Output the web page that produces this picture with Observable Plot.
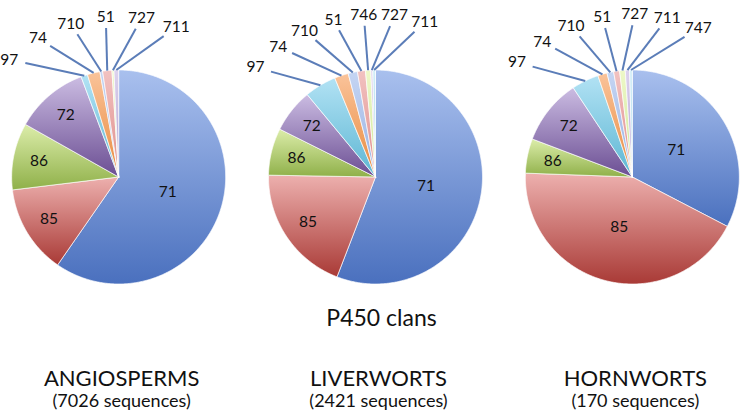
<!DOCTYPE html>
<html>
<head>
<meta charset="utf-8">
<script src="https://cdn.jsdelivr.net/npm/d3@7"></script>
<script src="https://cdn.jsdelivr.net/npm/@observablehq/plot@0.6"></script>
<style>
  html, body { margin: 0; padding: 0; background: #fff; }
  #chart { width: 741px; height: 420px; }
</style>
</head>
<body>
<div id="chart"></div>
<script>
// ---- data (percent of sequences per P450 clan) ----
const groups = ["ANGIOSPERMS", "LIVERWORTS", "HORNWORTS"];
const sequenceLabels = ["(7026 sequences)", "(2421 sequences)", "(170 sequences)"];
const axisTitle = "P450 clans";

const angiospermClans  = ["71", "85", "86", "72", "97", "74", "710", "51", "727", "711"];
const angiospermValues = [59.6, 13.4, 10.1, 11.1, 1.0, 1.9, 0.4, 1.4, 0.3, 0.7];

const liverwortClans  = ["71", "85", "86", "72", "97", "74", "710", "51", "746", "727", "711"];
const liverwortValues = [55.8, 19.4, 7.1, 6.6, 4.8, 2.1, 1.4, 1.2, 0.8, 0.3, 0.4];

const hornwortClans  = ["71", "85", "86", "72", "97", "74", "710", "51", "727", "711", "747"];
const hornwortValues = [32.6, 42.9, 5.2, 9.9, 4.1, 1.4, 1.0, 0.9, 0.85, 0.65, 0.4];

// ---- styling ----
const topColors    = ["#A9C0EE", "#EDB0AE", "#DCEDAA", "#CBBCE2", "#B2E2F4", "#FAC39A",
                      "#C5D5F3", "#F2C2C1", "#EEF8C8", "#DDD3EE", "#D3EEF8", "#FCD9BE"];
const bottomColors = ["#4A70BE", "#A93A36", "#8FB049", "#6B4E93", "#5DB6D3", "#E88A3E",
                      "#97B1E3", "#DE8C89", "#CDE596", "#AE9CCF", "#9AD2E6", "#F6B47E"];
const fans = [[-43, 21], [-47.6, 17.6], [-45.2, 23.9]]; // label fan (degrees)
const fanRadius = [1.50, 1.52, 1.52];

const W = 741, H = 420, R = 107, CY = 176.5, ML = 9, MR = 0, PAD = 0.15;
const step = (W - ML - MR) / (groups.length - PAD);
const bw = step * (1 - PAD);
const hw = bw / 2 / R;
const yTop = CY / R, yBot = -(H - CY) / R;
const rad = Math.PI / 180;
const labelFont = 15.5;

const pies = [
  {group: groups[0], clans: angiospermClans, values: angiospermValues, fan: fans[0], rt: fanRadius[0]},
  {group: groups[1], clans: liverwortClans, values: liverwortValues, fan: fans[1], rt: fanRadius[1]},
  {group: groups[2], clans: hornwortClans, values: hornwortValues, fan: fans[2], rt: fanRadius[2]}
];

const slices = [], leaders = [], outerLabels = [], innerLabels = [];
pies.forEach(p => {
  const rows = p.clans.map((c, i) => ({clan: c, value: p.values[i], index: i}));
  const arcs = d3.pie().sort(null).value(d => d.value)(rows);
  arcs.forEach(a => {
    const span = a.endAngle - a.startAngle;
    const n = Math.max(2, Math.ceil(span / (0.5 * rad)));
    const pts = [{group: p.group, x: 0, y: 0}];
    for (let k = 0; k <= n; k++) {
      const t = a.startAngle + span * k / n;
      pts.push({group: p.group, x: Math.sin(t), y: Math.cos(t)});
    }
    pts.push({group: p.group, x: 0, y: 0});
    slices.push({index: a.data.index, pts});
    const m = (a.startAngle + a.endAngle) / 2;
    if (a.data.value >= 5) {
      const r = a.data.value > 30 ? 0.48 : 0.76;
      innerLabels.push({group: p.group, clan: a.data.clan, x: r * Math.sin(m), y: r * Math.cos(m)});
    }
  });
  const outside = arcs.filter(a => a.data.value < 5);
  outside.forEach((a, j) => {
    const t = (p.fan[0] + (p.fan[1] - p.fan[0]) * j / (outside.length - 1)) * rad;
    const tx = p.rt * Math.sin(t), ty = p.rt * Math.cos(t);
    const m = (a.startAngle + a.endAngle) / 2;
    const sx = Math.sin(m), sy = Math.cos(m);
    // leader end: short of the label centre, on an ellipse around the label
    let vx = sx - tx, vy = sy - ty;
    const len = Math.hypot(vx, vy); vx /= len; vy /= len;
    const aPx = a.data.clan.length * 0.58 * labelFont / 2 + 8, bPx = 11;
    const k = 1 / Math.sqrt((vx / aPx) ** 2 + (vy / bPx) ** 2) / R;
    leaders.push({group: p.group, x1: sx, y1: sy, x2: tx + vx * k, y2: ty + vy * k});
    outerLabels.push({group: p.group, clan: a.data.clan, x: tx, y: ty});
  });
});

const groupRows = groups.map((g, i) => ({group: g, seq: sequenceLabels[i]}));

const marks = slices.map(s =>
  Plot.line(s.pts, {
    fx: "group", x: "x", y: "y", curve: "linear",
    fill: `url(#slice-grad-${s.index})`,
    stroke: "white", strokeWidth: 0.8, strokeOpacity: 0.85
  })
);
marks.push(
  Plot.link(leaders, {fx: "group", x1: "x1", y1: "y1", x2: "x2", y2: "y2",
    stroke: "#5B7DB8", strokeWidth: 2}),
  Plot.text(outerLabels, {fx: "group", x: "x", y: "y", text: "clan",
    fontSize: labelFont, fill: "#111"}),
  Plot.text(innerLabels, {fx: "group", x: "x", y: "y", text: "clan",
    fontSize: labelFont, fill: "#111"}),
  Plot.text(groupRows, {fx: "group", text: "group", frameAnchor: "bottom",
    dy: -35, dx: 3, fontSize: 22, fill: "#111"}),
  Plot.text(groupRows, {fx: "group", text: "seq", frameAnchor: "bottom",
    dy: -14, dx: 3, fontSize: 18, fill: "#111"}),
  Plot.text([{group: groups[1], label: axisTitle}], {fx: "group", text: "label",
    frameAnchor: "bottom", dy: -95, dx: 6, fontSize: 23, fill: "#111"})
);

const svg = Plot.plot({
  width: W, height: H,
  marginLeft: ML, marginRight: MR, marginTop: 0, marginBottom: 0,
  style: {fontFamily: "Lato, sans-serif", background: "white", overflow: "visible"},
  fx: {domain: groups, paddingInner: PAD, paddingOuter: 0, round: false, axis: null, label: null},
  x: {domain: [-hw, hw], axis: null},
  y: {domain: [yBot, yTop], axis: null},
  marks
});

const ns = "http://www.w3.org/2000/svg";
const defs = document.createElementNS(ns, "defs");
topColors.forEach((c, i) => {
  const g = document.createElementNS(ns, "linearGradient");
  g.setAttribute("id", `slice-grad-${i}`);
  g.setAttribute("x1", "0"); g.setAttribute("y1", "0");
  g.setAttribute("x2", "0"); g.setAttribute("y2", "1");
  [[0, c], [1, bottomColors[i]]].forEach(([o, col]) => {
    const s = document.createElementNS(ns, "stop");
    s.setAttribute("offset", o);
    s.setAttribute("stop-color", col);
    g.appendChild(s);
  });
  defs.appendChild(g);
});
svg.insertBefore(defs, svg.firstChild);
document.getElementById("chart").appendChild(svg);
</script>
</body>
</html>
